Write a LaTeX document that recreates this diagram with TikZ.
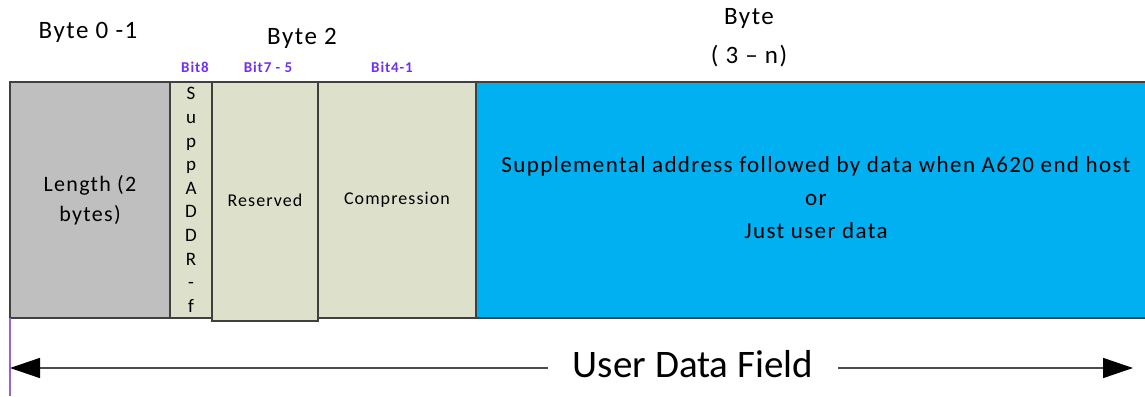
\documentclass[tikz,border=0pt]{standalone}
\usepackage{fontspec}
\setmainfont[LetterSpace=6]{Carlito}
\newfontfamily\plainfont{Carlito}
\usepackage{tikz}
\usetikzlibrary{arrows.meta}
\definecolor{FieldGray}{RGB}{191,191,191}
\definecolor{FieldGreen}{RGB}{221,224,203}
\definecolor{FieldBlue}{RGB}{0,176,240}
\definecolor{BitViolet}{RGB}{112,48,240}
\definecolor{EdgeViolet}{RGB}{150,100,210}

\begin{document}
\begin{tikzpicture}[x=1pt,y=1pt,
  fld/.style n args={2}{draw=black!75,line width=1.6pt,fill=#1,minimum width=#2pt,minimum height=236pt,inner sep=0pt,rectangle},
  hdr/.style={font=\fontsize{25}{28}\selectfont,inner sep=0pt},
  bitlbl/.style={text=BitViolet,font=\fontsize{15}{17}\selectfont\bfseries,inner sep=0pt},
  txt/.style={font=\fontsize{#1}{#1}\selectfont,align=center,inner sep=0pt},
  udfarr/.style={black!70,line width=1.5pt,-{Triangle[length=30pt,width=20pt,black]}}]
\useasboundingbox (0,0) rectangle (1145,396);
% fields of the frame
\node[fld={FieldGray}{160}] (len) at (90,196) {};
\node[fld={FieldGreen}{42}] (supp) at (191,196) {};
\node[fld={FieldGreen}{106},minimum height=239pt] (res) at (265,194.5) {};
\node[fld={FieldGreen}{158}] (comp) at (397,196) {};
\node[fld={FieldBlue}{672}] (data) at (812,196) {};
\node[txt=22,font=\fontsize{22}{30}\selectfont] (lenT) at (len.center) {Length (2\\bytes)};
\node[txt=19,font=\fontsize{19}{23.6}\selectfont] (suppT) at (supp.center) {S\\u\\p\\p\\A\\D\\D\\R\\-\\f};
\node[txt=18] (resT) at (265,196) {Reserved};
\node[txt=18] (compT) at (comp.center) {Compression};
\node[txt=23,font=\fontsize{23}{33}\selectfont] (dataT) at (816,198) {Supplemental address followed by data when A620 end host\\or\\Just user data};
% byte and bit headers
\node[hdr] (b01) at (88,364) {Byte 0 -1};
\node[hdr] (b2) at (302,358) {Byte 2};
\node[hdr] (b3) at (749,378) {Byte};
\node[hdr] (b3n) at (749,340) {( 3 -- n)};
\foreach \x/\t/\n in {195/Bit8/bit8,268/Bit7 - 5/bit75,392/Bit4-1/bit41}
  \node[bitlbl] (\n) at (\x,329) {\t};
% user data field arrow
\coordinate (edgeT) at (10,78);
\coordinate (edgeB) at (10,0);
\coordinate (arrL) at (10,28);
\coordinate (arrR) at (1133,28);
\draw[EdgeViolet,line width=1.4pt] (edgeT) -- (edgeB);
\node[font=\plainfont\fontsize{39}{42}\selectfont,inner xsep=25pt] (udf) at (693,32) {User Data Field};
\draw[udfarr] (udf.west|-arrL) -- (arrL);
\draw[udfarr] (udf.east|-arrR) -- (arrR);
\end{tikzpicture}
\end{document}
